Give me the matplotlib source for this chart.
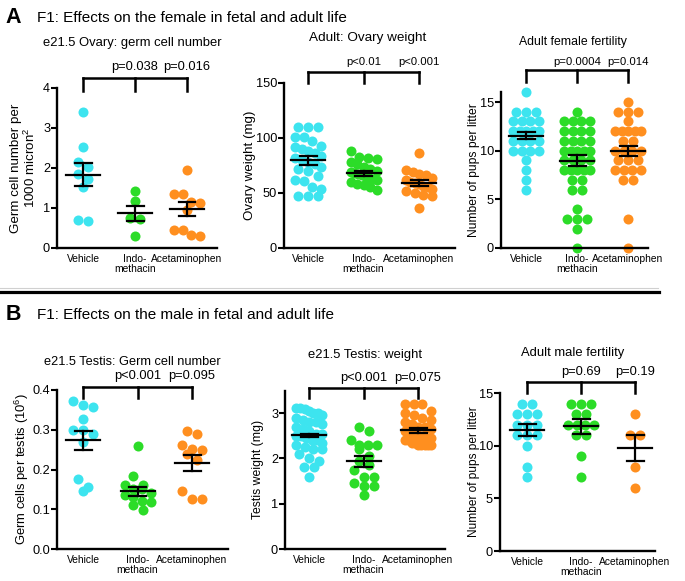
import numpy as np
import matplotlib
matplotlib.use("Agg")
import matplotlib.pyplot as plt
from matplotlib.lines import Line2D
from matplotlib.ticker import FormatStrFormatter
from matplotlib.transforms import blended_transform_factory

plt.rcParams["font.family"] = ["Liberation Sans", "DejaVu Sans"]

W, H = 685, 581

GROUPS = ["Vehicle", "Indo-\nmethacin", "Acetaminophen"]
COLORS = ["#3de4ef", "#2cdc28", "#ff8f1f"]

# --- A: e21.5 ovary, germ cells per 1000 micron^2
ovgerm_vehicle = [3.39, 2.52, 2.16, 2.03, 1.84, 1.72, 1.52, 0.67, 0.69]
ovgerm_indo = [1.43, 1.17, 0.75, 0.72, 0.30]
ovgerm_acet = [1.95, 1.34, 1.34, 1.15, 1.12, 0.95, 0.46, 0.45, 0.29, 0.32]
ovgerm_mean = [1.83, 0.87, 0.97]
ovgerm_sem = [0.29, 0.19, 0.17]
ovgerm_p = ["p=0.038", "p=0.016"]

# --- A: adult ovary weight (mg)
ovw_vehicle = [110, 110, 110, 101, 101, 97, 93, 92, 90, 88, 86, 84, 82, 80, 78,
               76, 74, 72, 70, 65, 62, 61, 55, 54, 47, 47, 47]
ovw_indo = [88, 83, 82, 81, 78, 76, 74, 72, 70, 69, 68, 67, 66, 65, 64, 63, 62,
            60, 58, 57, 55, 53]
ovw_acet = [86, 71, 69, 67, 66, 64, 62, 60, 59, 58, 56, 55, 54, 52, 50, 48, 47, 36]
ovw_mean = [79.7, 67.8, 59.0]
ovw_sem = [3.9, 2.3, 3.0]
ovw_p = ["p<0.01", "p<0.001"]

# --- A: adult female fertility (pups per litter)
ffert_vehicle = [16, 14, 14, 14, 13, 13, 13, 13, 12, 12, 12, 12, 12,
                 11, 11, 11, 11, 10, 10, 10, 10, 9, 8, 7, 6]
ffert_indo = [14, 13, 13, 13, 13, 12, 12, 12, 12, 11, 11, 11, 11,
              10, 10, 10, 10, 10, 9, 9, 9, 9, 8, 8, 8, 8, 8, 7, 7, 6, 6,
              4, 3, 3, 3, 2, 0]
ffert_acet = [15, 14, 14, 14, 13, 12, 12, 12, 12, 12, 11, 11, 10, 10, 10, 10,
              9, 9, 9, 8, 8, 8, 8, 7, 7, 3, 0]
ffert_mean = [11.55, 8.95, 9.93]
ffert_sem = [0.39, 0.56, 0.51]
ffert_p = ["p=0.0004", "p=0.014"]

# --- B: e21.5 testis, germ cells per testis (10^6)
tgerm_vehicle = [0.373, 0.362, 0.358, 0.327, 0.300, 0.300, 0.290, 0.270,
                 0.175, 0.145, 0.155]
tgerm_indo = [0.258, 0.183, 0.162, 0.160, 0.152, 0.150, 0.140, 0.135, 0.130,
              0.120, 0.118, 0.110, 0.097]
tgerm_acet = [0.296, 0.289, 0.262, 0.251, 0.250, 0.238, 0.225, 0.145, 0.125, 0.125]
tgerm_mean = [0.273, 0.145, 0.217]
tgerm_sem = [0.025, 0.011, 0.020]
tgerm_p = ["p<0.001", "p=0.095"]

# --- B: e21.5 testis weight (mg)
tw_vehicle = [3.12, 3.12, 3.10, 3.05, 3.00, 3.00, 2.95, 2.90, 2.85, 2.80, 2.80,
              2.75, 2.70, 2.65, 2.60, 2.55, 2.55, 2.50, 2.50, 2.45, 2.40, 2.40,
              2.35, 2.30, 2.25, 2.20, 2.20, 2.10, 2.00, 1.95, 1.80, 1.80, 1.60]
tw_indo = [2.70, 2.60, 2.40, 2.30, 2.30, 2.30, 2.20, 2.05, 1.95, 1.85, 1.75,
           1.60, 1.60, 1.45, 1.40, 1.40, 1.20]
tw_acet = [3.20, 3.20, 3.20, 3.05, 3.00, 2.95, 2.90, 2.85, 2.80, 2.75, 2.70,
           2.70, 2.65, 2.60, 2.60, 2.55, 2.50, 2.50, 2.45, 2.45, 2.40, 2.40,
           2.35, 2.35, 2.30, 2.30, 2.30, 2.30, 2.30]
tw_mean = [2.51, 1.94, 2.62]
tw_sem = [0.04, 0.12, 0.05]
tw_p = ["p<0.001", "p=0.075"]

# --- B: adult male fertility (pups per litter)
mfert_vehicle = [14, 14, 13, 13, 13, 12, 12, 12, 11, 11, 11, 10, 8, 7]
mfert_indo = [14, 14, 14, 13, 13, 12, 12, 12, 12, 11, 11, 9, 7]
mfert_acet = [13, 11, 11, 8, 6]
mfert_mean = [11.5, 11.85, 9.8]
mfert_sem = [0.6, 0.7, 1.23]
mfert_p = ["p=0.69", "p=0.19"]

fig = plt.figure(figsize=(W / 100, H / 100), dpi=100)

DOT_PX = 10.0
ROW_PX = 9.0      # points closer than this (vertically) share a row
MAX_HALF = 13.0   # widest allowed spread of dot centres either side


def row_offsets(vals, px_y):
    """Prism-style scatter: group close values into rows, centre each row."""
    vals = np.asarray(vals, dtype=float)
    order = np.argsort(-vals, kind="stable")
    rows, cur, start = [], [], None
    for i in order:
        y = vals[i] * px_y
        if start is None or start - y >= ROW_PX:
            if cur:
                rows.append(cur)
            cur, start = [i], y
        else:
            cur.append(i)
    rows.append(cur)
    offs = np.zeros(len(vals))
    for r in rows:
        n = len(r)
        if n > 1:
            sp = min(DOT_PX, 2 * MAX_HALF / (n - 1))
            offs[r] = (np.arange(n) - (n - 1) / 2) * sp
    return offs


def panel(box, cats, ylim, yticks, groups, means, sems, pvals, title, title_xy,
          p_y, br_y, leg_y, ylabel, ylab_x, title_fs=9.4, p_fs=9.3, ylab_fs=9.6,
          yfmt=None):
    left, right, top, bottom = box
    x0, step = cats
    ax = fig.add_axes([left / W, 1 - bottom / H, (right - left) / W, (bottom - top) / H])
    ax.set_xlim((left - x0) / step, (right - x0) / step)
    ax.set_ylim(*ylim)
    px_y = (bottom - top) / (ylim[1] - ylim[0])

    for k, vals in enumerate(groups):
        offs = row_offsets(vals, px_y) / step
        ax.scatter(k + offs, vals, s=52, color=COLORS[k], linewidths=0,
                   zorder=2, clip_on=False)
        m, e = means[k], sems[k]
        hw, cw = 17 / step, 8.5 / step
        ax.plot([k - hw, k + hw], [m, m], color="black", lw=1.6, zorder=3)
        ax.plot([k - cw, k + cw], [m + e, m + e], color="black", lw=1.6, zorder=3)
        ax.plot([k - cw, k + cw], [m - e, m - e], color="black", lw=1.6, zorder=3)
        ax.plot([k, k], [m - e, m + e], color="black", lw=1.6, zorder=3)

    for s in ("top", "right"):
        ax.spines[s].set_visible(False)
    for s in ("left", "bottom"):
        ax.spines[s].set_linewidth(1.7)
    ax.set_yticks(yticks)
    if yfmt:
        ax.yaxis.set_major_formatter(FormatStrFormatter(yfmt))
    ax.tick_params(axis="y", length=4, width=1.5, labelsize=9.2, pad=1)
    ax.set_xticks([0, 1, 2])
    ax.set_xticklabels(GROUPS, fontsize=7.4, linespacing=1.0)
    ax.tick_params(axis="x", length=0, pad=4)

    ax.set_ylabel(ylabel, fontsize=ylab_fs, va="center", linespacing=1.05)
    ax.yaxis.set_label_coords((ylab_x - left) / (right - left), 0.5)

    # significance bracket above the groups
    tr = blended_transform_factory(ax.transData, fig.transFigure)
    yb, yl = 1 - br_y / H, 1 - leg_y / H
    ax.add_line(Line2D([0, 2], [yb, yb], transform=tr, color="black", lw=1.8,
                       clip_on=False, solid_capstyle="projecting"))
    for k in range(3):
        ax.add_line(Line2D([k, k], [yb, yl], transform=tr, color="black", lw=1.8,
                           clip_on=False))
    for k, txt in zip((1, 2), pvals):
        ax.text(k, 1 - p_y / H, txt, transform=tr, ha="center", va="center",
                fontsize=p_fs)
    fig.text(title_xy[0] / W, 1 - title_xy[1] / H, title, ha="center",
             va="center", fontsize=title_fs)
    return ax


# ---------- row A ----------
panel((57, 217, 88, 248), (83, 52), (0, 4), [0, 1, 2, 3, 4],
      [ovgerm_vehicle, ovgerm_indo, ovgerm_acet], ovgerm_mean, ovgerm_sem, ovgerm_p,
      "e21.5 Ovary: germ cell number", (132, 43), 67, 78, 91,
      "Germ cell number per\n1000 micron$^{\\mathregular{2}}$", 24)

panel((284, 455, 83, 248), (308, 55.5), (0, 150), [0, 50, 100, 150],
      [ovw_vehicle, ovw_indo, ovw_acet], ovw_mean, ovw_sem, ovw_p,
      "Adult: Ovary weight", (367.5, 38), 61.7, 71.7, 83.3,
      "Ovary weight (mg)", 250, title_fs=9.7, p_fs=8.2)

panel((501, 648, 92.3, 248), (526, 51), (0, 16), [0, 5, 10, 15],
      [ffert_vehicle, ffert_indo, ffert_acet], ffert_mean, ffert_sem, ffert_p,
      "Adult female fertility", (573, 42), 61.7, 70, 82,
      "Number of pups per litter", 474, title_fs=8.8, p_fs=8.2, ylab_fs=8.7)

# ---------- row B ----------
panel((57, 228, 390, 549), (83, 54.5), (0, 0.4), [0, 0.1, 0.2, 0.3, 0.4],
      [tgerm_vehicle, tgerm_indo, tgerm_acet], tgerm_mean, tgerm_sem, tgerm_p,
      "e21.5 Testis: Germ cell number", (132, 362), 376, 386.7, 398,
      "Germ cells per testis (10$^{\\mathregular{6}}$)", 22, ylab_fs=9.4,
      title_fs=9.2, yfmt="%.1f")

panel((285, 445, 390.5, 549), (309, 54.5), (0, 3.5), [0, 1, 2, 3],
      [tw_vehicle, tw_indo, tw_acet], tw_mean, tw_sem, tw_p,
      "e21.5 Testis: weight", (364.5, 355), 378, 388.3, 398.3,
      "Testis weight (mg)", 258, ylab_fs=8.8)

panel((500, 655, 393, 551), (527, 54), (0, 15), [0, 5, 10, 15],
      [mfert_vehicle, mfert_indo, mfert_acet], mfert_mean, mfert_sem, mfert_p,
      "Adult male fertility", (572.5, 352.7), 371.7, 381.7, 393.3,
      "Number of pups per litter", 474, ylab_fs=8.6)

# section headers and divider
fig.text(5 / W, 1 - 17.5 / H, "A", fontsize=15.5, weight="bold", va="center")
fig.text(37 / W, 1 - 17.5 / H, "F1: Effects on the female in fetal and adult life",
         fontsize=11, va="center")
fig.text(6 / W, 1 - 315 / H, "B", fontsize=15.5, weight="bold", va="center")
fig.text(37 / W, 1 - 315 / H, "F1: Effects on the male in fetal and adult life",
         fontsize=11, va="center")
fig.add_artist(Line2D([0, 658 / W], [1 - 288 / H] * 2, color="#d0d0d0", lw=0.8))
fig.add_artist(Line2D([0, 659 / W], [1 - 291.5 / H] * 2, color="black", lw=2.3))

fig.savefig("out.png", dpi=100)
plt.close(fig)
